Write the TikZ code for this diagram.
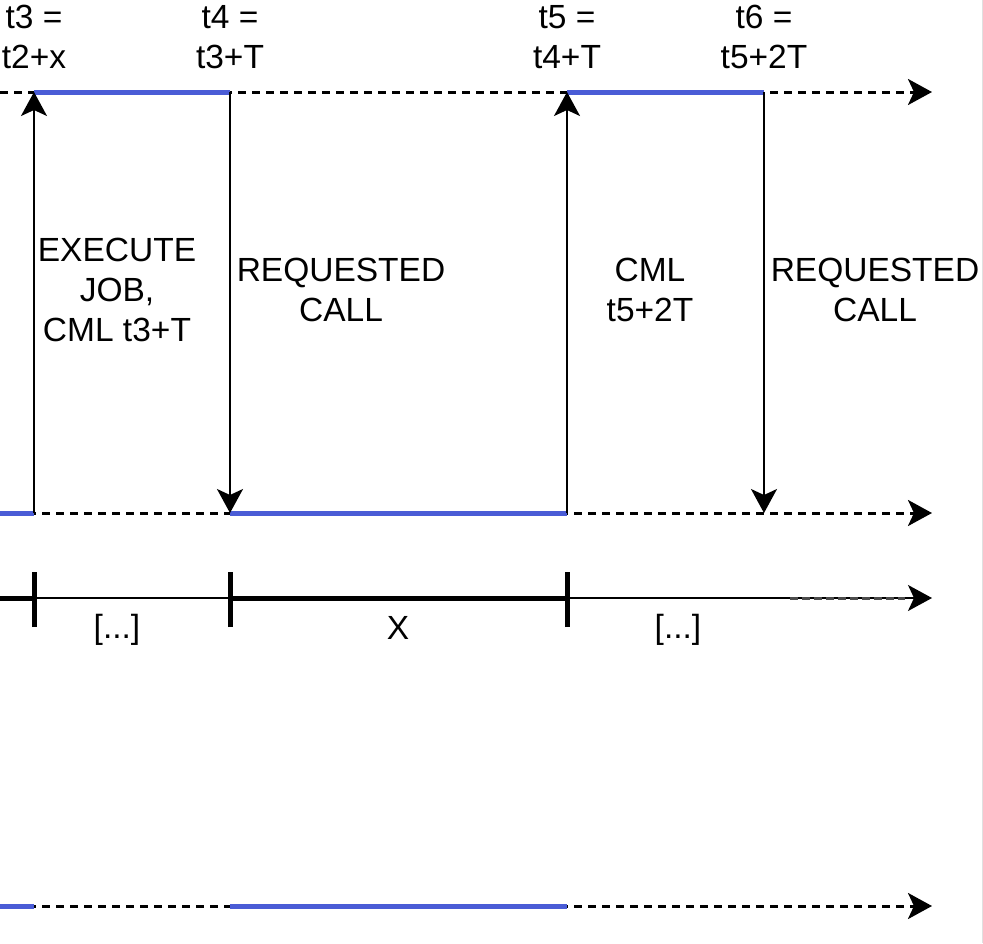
\documentclass[tikz,border=0pt]{standalone}
\usepackage{fontspec}
\setmainfont{Liberation Sans}
\usepackage{xcolor}
\usetikzlibrary{arrows.meta}
\definecolor{jobblue}{RGB}{74,92,214}

\begin{document}
\begin{tikzpicture}[x=1pt,y=-1pt,
    every node/.style={font=\fontsize{33.5}{40}\selectfont, align=center, inner sep=0pt},
    tip/.style={-{Stealth[length=24pt,width=26pt,inset=6pt]}},
    axis/.style={tip, line width=3pt, dash pattern=on 8pt off 6pt},
    busy/.style={jobblue, line width=5pt, yshift=-1.5pt},
    call/.style={tip, line width=2pt}]
\useasboundingbox (0,0) rectangle (983,943);
\draw[black!12, line width=1pt] (982,0) -- (982,943);

    % time points on the lines
    \coordinate (a0) at (0,92);   \coordinate (aend) at (932,92);
    \coordinate (b0) at (0,513);  \coordinate (bend) at (932,513);
    \coordinate (c0) at (0,598);  \coordinate (cend) at (932,598);
    \coordinate (d0) at (0,906);  \coordinate (dend) at (932,906);
    \foreach \n/\x in {3/34,4/230,5/567,6/764} {
        \coordinate (a\n) at (\x,92);
        \coordinate (b\n) at (\x,513);
        \coordinate (c\n) at (\x,598);
        \coordinate (d\n) at (\x,906);
    }

    % the lines
    \draw[axis] (a0) -- (aend);
    \draw[axis] (b0) -- (bend);
    \draw[axis] (d0) -- (dend);
    \draw[tip, line width=2pt] (c0) -- (cend);
    \draw[line width=5pt] (c0) -- (c3);
    \draw[line width=5pt] (c4) -- (c5);
    \draw[black!70, line width=3pt, dash pattern=on 8pt off 4pt] (790,598) -- (905,598);
    \foreach \n in {3,4,5}
        \draw[line width=5pt] ([yshift=-29pt]c\n) -- ([yshift=26pt]c\n);

    % busy periods
    \draw[busy] (a3) -- (a4);
    \draw[busy] (a5) -- (a6);
    \draw[busy] (b0) -- (b3);
    \draw[busy] (b4) -- (b5);
    \draw[busy] (d0) -- (d3);
    \draw[busy] (d4) -- (d5);

    % draw the arrows
    \draw[call] (b3) -- (a3);
    \draw[call] (a4) -- (b4);
    \draw[call] (b5) -- (a5);
    \draw[call] (a6) -- (b6);

    \node (t3) at (34,37) {t3 =\\t2+x};
    \node (t4) at (230,37) {t4 =\\t3+T};
    \node (t5) at (567,37) {t5 =\\t4+T};
    \node (t6) at (764,37) {t6 =\\t5+2T};

    \node (exec) at (117,290) {EXECUTE\\JOB,\\CML t3+T};
    \node (req1) at (341,290) {REQUESTED\\CALL};
    \node (cml) at (650,290) {CML\\t5+2T};
    \node (req2) at (875,290) {REQUESTED\\CALL};

    \node (gap1) at (117,630) {[...]};
    \node (span) at (398,628) {X};
    \node (gap2) at (678,630) {[...]};

\end{tikzpicture}
\end{document}
